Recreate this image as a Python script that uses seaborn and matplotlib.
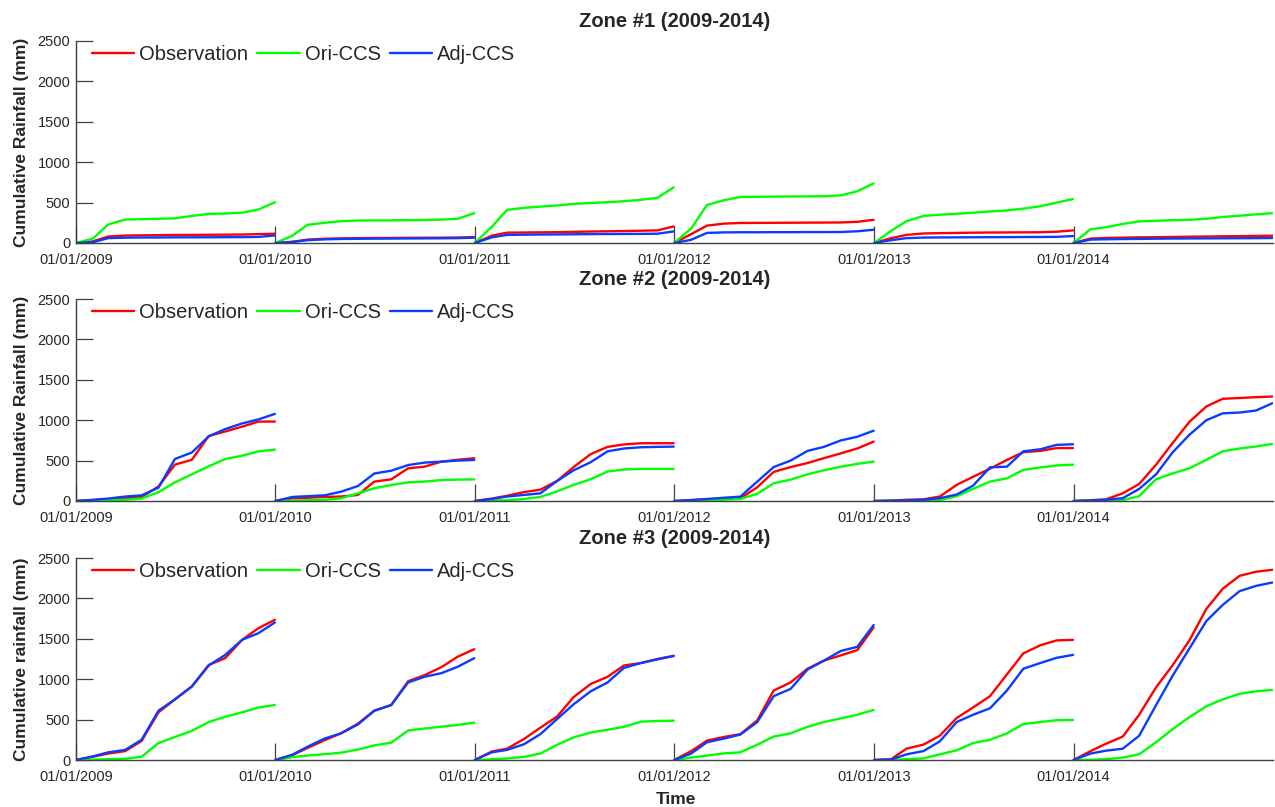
import numpy as np
import pandas as pd
import matplotlib
matplotlib.use("Agg")
import matplotlib.pyplot as plt
import matplotlib.dates as mdates
import seaborn as sns

# ---------------- data (cumulative rainfall, mm; values at the start of each month + Dec 31) -----
years = [2009, 2010, 2011, 2012, 2013, 2014]
series_names = ["Observation", "Ori-CCS", "Adj-CCS"]
zone_titles = ["Zone #1 (2009-2014)", "Zone #2 (2009-2014)", "Zone #3 (2009-2014)"]
ylabels = ["Cumulative Rainfall (mm)", "Cumulative Rainfall (mm)", "Cumulative rainfall (mm)"]
xtick_labels = ["01/01/2009", "01/01/2010", "01/01/2011", "01/01/2012", "01/01/2013", "01/01/2014"]

# Zone 1
z1_obs = [
    [0, 20, 80, 92, 95, 97, 100, 100, 102, 103, 105, 110, 115],
    [0, 15, 42, 53, 57, 60, 62, 63, 64, 65, 66, 68, 74],
    [0, 90, 128, 130, 132, 134, 138, 142, 145, 148, 152, 156, 205],
    [0, 110, 215, 240, 248, 249, 250, 251, 252, 253, 254, 262, 287],
    [0, 60, 100, 118, 122, 125, 128, 130, 131, 132, 133, 140, 156],
    [0, 55, 62, 66, 70, 72, 75, 78, 80, 83, 85, 88, 90],
]
z1_ori = [
    [0, 55, 230, 290, 295, 300, 305, 335, 360, 365, 375, 415, 504],
    [0, 90, 225, 250, 270, 278, 280, 280, 282, 285, 290, 300, 369],
    [0, 200, 410, 435, 450, 465, 484, 495, 505, 517, 535, 558, 689],
    [0, 180, 470, 530, 570, 572, 574, 576, 577, 578, 590, 640, 738],
    [0, 150, 270, 335, 350, 362, 375, 390, 403, 425, 455, 500, 545],
    [0, 170, 195, 235, 268, 275, 282, 287, 300, 322, 338, 355, 369],
]
z1_adj = [
    [0, 10, 60, 66, 68, 68, 70, 70, 71, 72, 73, 75, 94],
    [0, 12, 35, 45, 50, 52, 54, 55, 56, 57, 58, 60, 66],
    [0, 70, 100, 103, 105, 106, 108, 110, 111, 112, 113, 115, 143],
    [0, 40, 125, 131, 133, 133, 134, 134, 135, 135, 136, 145, 164],
    [0, 35, 60, 67, 69, 70, 71, 72, 73, 74, 75, 76, 86],
    [0, 42, 46, 49, 51, 53, 55, 56, 57, 58, 59, 60, 62],
]

# Zone 2
z2_obs = [
    [0, 10, 20, 35, 50, 180, 450, 510, 805, 860, 920, 983, 983],
    [0, 33, 40, 50, 55, 75, 240, 268, 405, 425, 487, 510, 529],
    [0, 30, 65, 110, 140, 250, 420, 580, 670, 700, 715, 715, 715],
    [0, 10, 20, 30, 33, 170, 360, 420, 470, 530, 590, 650, 735],
    [0, 5, 15, 20, 55, 200, 300, 400, 508, 605, 620, 655, 655],
    [0, 10, 20, 95, 210, 450, 715, 980, 1170, 1265, 1275, 1285, 1293],
]
z2_ori = [
    [0, 5, 10, 15, 30, 110, 230, 330, 430, 520, 560, 615, 636],
    [0, 5, 10, 15, 33, 95, 157, 198, 231, 240, 260, 265, 268],
    [0, 5, 10, 25, 50, 120, 200, 270, 365, 390, 397, 397, 397],
    [0, 3, 8, 15, 25, 90, 219, 265, 330, 380, 425, 460, 487],
    [0, 1, 3, 5, 10, 60, 150, 240, 281, 385, 415, 440, 450],
    [0, 2, 5, 10, 60, 270, 340, 405, 510, 615, 650, 675, 706],
]
z2_adj = [
    [0, 15, 30, 55, 70, 165, 520, 600, 800, 890, 960, 1010, 1078],
    [0, 50, 60, 70, 115, 185, 340, 375, 445, 475, 487, 500, 508],
    [0, 25, 55, 75, 95, 250, 380, 480, 615, 650, 665, 670, 673],
    [0, 12, 25, 40, 54, 240, 420, 500, 620, 670, 750, 795, 870],
    [0, 3, 8, 15, 35, 80, 190, 417, 425, 615, 640, 695, 702],
    [0, 5, 15, 35, 150, 330, 600, 820, 1000, 1085, 1095, 1120, 1210],
]

# Zone 3
z3_obs = [
    [0, 40, 80, 110, 235, 590, 750, 910, 1177, 1260, 1487, 1632, 1735],
    [0, 60, 150, 245, 330, 450, 610, 680, 975, 1050, 1150, 1280, 1371],
    [0, 105, 140, 260, 400, 540, 780, 940, 1030, 1170, 1200, 1250, 1288],
    [0, 110, 240, 285, 320, 490, 860, 960, 1130, 1230, 1295, 1360, 1640],
    [0, 10, 140, 190, 300, 520, 650, 790, 1060, 1320, 1420, 1480, 1487],
    [0, 110, 200, 290, 560, 900, 1170, 1480, 1870, 2120, 2280, 2330, 2354],
]
z3_ori = [
    [0, 5, 10, 15, 40, 210, 285, 360, 470, 535, 590, 650, 681],
    [0, 35, 55, 72, 90, 130, 180, 215, 365, 390, 412, 435, 462],
    [0, 8, 20, 38, 80, 190, 280, 340, 375, 410, 475, 482, 487],
    [0, 30, 55, 82, 95, 190, 290, 330, 410, 470, 515, 560, 620],
    [0, 0, 10, 20, 70, 120, 210, 250, 330, 445, 470, 492, 496],
    [0, 2, 10, 30, 70, 220, 380, 530, 665, 750, 820, 850, 867],
]
z3_adj = [
    [0, 45, 95, 125, 250, 610, 750, 910, 1170, 1300, 1487, 1570, 1702],
    [0, 65, 165, 265, 330, 440, 610, 680, 960, 1030, 1075, 1155, 1260],
    [0, 95, 125, 195, 320, 510, 690, 850, 960, 1140, 1200, 1245, 1288],
    [0, 80, 220, 265, 315, 470, 790, 880, 1120, 1230, 1350, 1400, 1670],
    [0, 5, 70, 110, 230, 470, 560, 640, 860, 1130, 1200, 1265, 1301],
    [0, 80, 115, 140, 300, 680, 1040, 1380, 1720, 1920, 2090, 2155, 2197],
]

zones = [
    {"Observation": z1_obs, "Ori-CCS": z1_ori, "Adj-CCS": z1_adj},
    {"Observation": z2_obs, "Ori-CCS": z2_ori, "Adj-CCS": z2_adj},
    {"Observation": z3_obs, "Ori-CCS": z3_ori, "Adj-CCS": z3_adj},
]

palette = {"Observation": "#ff0000", "Ori-CCS": "#00ff00", "Adj-CCS": "#0a3cff"}


def year_dates(y):
    d = [pd.Timestamp(y, m, 1) for m in range(1, 13)]
    d.append(pd.Timestamp(y, 12, 31))
    return d


def make_df(zone):
    rows = []
    for s in series_names:
        for yi, y in enumerate(years):
            for d, v in zip(year_dates(y), zone[s][yi]):
                rows.append({"date": d, "value": v, "series": s, "year": y})
    return pd.DataFrame(rows)


# ---------------- plot ----------------
sns.set_style("ticks")
plt.rcParams["font.family"] = ["Liberation Sans", "DejaVu Sans"]

W, H = 1275, 807
fig = plt.figure(figsize=(W / 100, H / 100), dpi=100)

ax_left = 76 / W
ax_w = (1273 - 76) / W
ax_h = 202 / H
bottoms = [243, 501, 760]

tick_col = "#262626"
for i, zone in enumerate(zones):
    ax = fig.add_axes([ax_left, 1 - bottoms[i] / H, ax_w, ax_h])
    df = make_df(zone)
    sns.lineplot(data=df, x="date", y="value", hue="series", units="year",
                 estimator=None, hue_order=series_names, palette=palette,
                 linewidth=1.7, ax=ax, legend=True)
    ax.set_xlim(pd.Timestamp(2009, 1, 1), pd.Timestamp(2015, 1, 1))
    ax.set_ylim(0, 2500)
    ax.set_yticks([0, 500, 1000, 1500, 2000, 2500])
    ax.set_xticks([pd.Timestamp(y, 1, 1) for y in years])
    ax.set_xticklabels(xtick_labels)
    ax.tick_params(axis="both", direction="in", length=12, width=0.9,
                   color="#404040", labelcolor=tick_col, labelsize=10.5)
    ax.tick_params(axis="x", pad=7)
    ax.tick_params(axis="y", pad=4)
    for sp in ["top", "right"]:
        ax.spines[sp].set_visible(False)
    for sp in ["left", "bottom"]:
        ax.spines[sp].set_color("#404040")
        ax.spines[sp].set_linewidth(1.0)
    ax.set_title(zone_titles[i], fontsize=14.5, fontweight="bold", pad=10)
    ax.set_ylabel(ylabels[i], fontsize=12.5, fontweight="bold", color=tick_col)
    ax.yaxis.set_label_coords(-(76 - 29) / 1197, 0.5)
    if i == 2:
        ax.set_xlabel("Time", fontsize=12.5, fontweight="bold", color=tick_col)
        ax.xaxis.set_label_coords((676 - 76) / 1197, -(792 - 760) / 202)
    else:
        ax.set_xlabel("")
    handles, labels = ax.get_legend_handles_labels()
    for h in handles:
        h.set_linewidth(1.7)
    ax.legend(handles, labels, loc="upper left", ncol=3, frameon=False,
              fontsize=14.5, handlelength=2.1, handletextpad=0.25,
              columnspacing=0.45, borderpad=0, borderaxespad=0,
              bbox_to_anchor=(16 / 1197, 1 - 4 / 202))

fig.savefig("out.png", dpi=100)
